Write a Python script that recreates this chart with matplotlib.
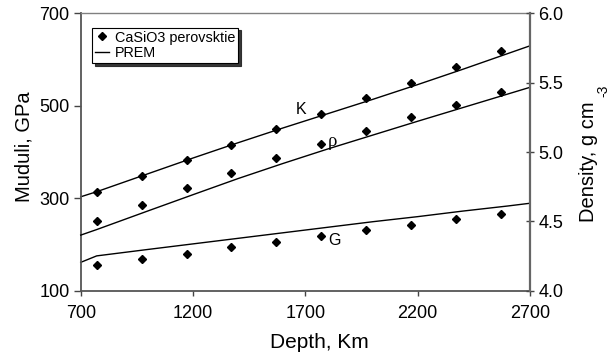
import matplotlib
matplotlib.use("Agg")
import matplotlib.pyplot as plt
from matplotlib.lines import Line2D

plt.rcParams['font.family'] = ['Liberation Sans', 'DejaVu Sans']

# CaSiO3 perovskite calculations
depth = [771, 971, 1171, 1371, 1571, 1771, 1971, 2171, 2371, 2571]
k_calc = [314, 349, 382, 416, 449, 483, 516, 550, 585, 619]
g_calc = [155, 168, 180, 194, 204, 218, 230, 242, 254, 266]
rho_calc = [4.50, 4.62, 4.74, 4.85, 4.96, 5.06, 5.15, 5.25, 5.34, 5.43]

# PREM reference profile
prem_depth = [700, 771, 1000, 1200, 1400, 1600, 1800, 2000, 2200, 2400, 2600, 2700]
prem_k = [303, 314, 353, 387, 420, 452, 483, 514, 546, 579, 613, 630]
prem_g = [161, 175, 189, 201, 213, 225, 237, 249, 260, 272, 283, 289]
prem_rho = [4.40, 4.44, 4.575, 4.692, 4.808, 4.917, 5.022, 5.122, 5.222, 5.32, 5.418, 5.467]

fig = plt.figure(figsize=(6.12, 3.53), dpi=100)
ax = fig.add_axes([0.1319, 0.177, 0.7341, 0.7848])
ax2 = ax.twinx()

mk = dict(marker='D', color='black', markersize=3.6, linestyle='none')
ax.plot(prem_depth, prem_k, color='black', lw=1.0, clip_on=False)
ax.plot(prem_depth, prem_g, color='black', lw=1.0, clip_on=False)
ax2.plot(prem_depth, prem_rho, color='black', lw=1.0, clip_on=False)
ax.plot(depth, k_calc, **mk)
ax.plot(depth, g_calc, **mk)
ax2.plot(depth, rho_calc, **mk)

ax.text(1683, 492, 'K', fontsize=11.5, ha='center', va='center')
ax.text(1822, 422, 'ρ', fontsize=13.5, ha='center', va='center',
        family=['Liberation Serif', 'DejaVu Serif'])
ax.text(1830, 209, 'G', fontsize=11.5, ha='center', va='center')

ax.set_xlim(700, 2700)
ax.set_ylim(100, 700)
ax2.set_ylim(4.0, 6.0)
ax.set_xticks([700, 1200, 1700, 2200, 2700])
ax.set_yticks([100, 300, 500, 700])
ax2.set_yticks([4.0, 4.5, 5.0, 5.5, 6.0])
ax2.set_yticklabels(['4.0', '4.5', '5.0', '5.5', '6.0'])

# axis titles
fig.text(319.5 / 612, 1 - 348 / 353, 'Depth, Km', fontsize=15,
         ha='center', va='baseline')
fig.text(24 / 612, 1 - 146.5 / 353, 'Muduli, GPa', fontsize=14.5,
         rotation=90, ha='center', va='center')
fig.text(588 / 612, 1 - 162 / 353, 'Density, g cm', fontsize=14.5,
         rotation=90, ha='center', va='center')
fig.text(603.5 / 612, 1 - 91 / 353, '-3', fontsize=10,
         rotation=90, ha='center', va='center')

ax.tick_params(axis='y', direction='out', length=5, width=1.0,
               labelsize=13, color='#444444', pad=3)
ax.tick_params(axis='x', direction='out', length=3.5, width=1.0,
               labelsize=13, color='#444444', pad=7)
ax2.tick_params(axis='y', direction='inout', length=6, width=1.0,
                labelsize=13, color='#444444', pad=3)

ax.spines['right'].set_visible(False)
ax2.spines['left'].set_visible(False)
ax2.spines['bottom'].set_visible(False)
ax2.spines['top'].set_visible(False)
ax.spines['top'].set_color('#808080')
ax.spines['top'].set_linewidth(1.0)
for s in ('left', 'bottom'):
    ax.spines[s].set_color('#555555')
    ax.spines[s].set_linewidth(1.3)
ax2.spines['right'].set_color('#666666')
ax2.spines['right'].set_linewidth(1.6)

handles = [Line2D([], [], **mk), Line2D([], [], color='black', lw=1.0)]
leg = ax.legend(handles, ['CaSiO3 perovsktie', 'PREM'], loc='upper left',
                bbox_to_anchor=(0.026, 0.949), fontsize=10.4, frameon=True,
                fancybox=False, shadow={'color': '#222222', 'alpha': 0.9},
                handlelength=0.95, handletextpad=0.4, borderpad=0.2,
                labelspacing=0.1, borderaxespad=0)
leg.get_frame().set_edgecolor('black')
leg.get_frame().set_linewidth(0.8)

fig.savefig('out.png', dpi=100)
